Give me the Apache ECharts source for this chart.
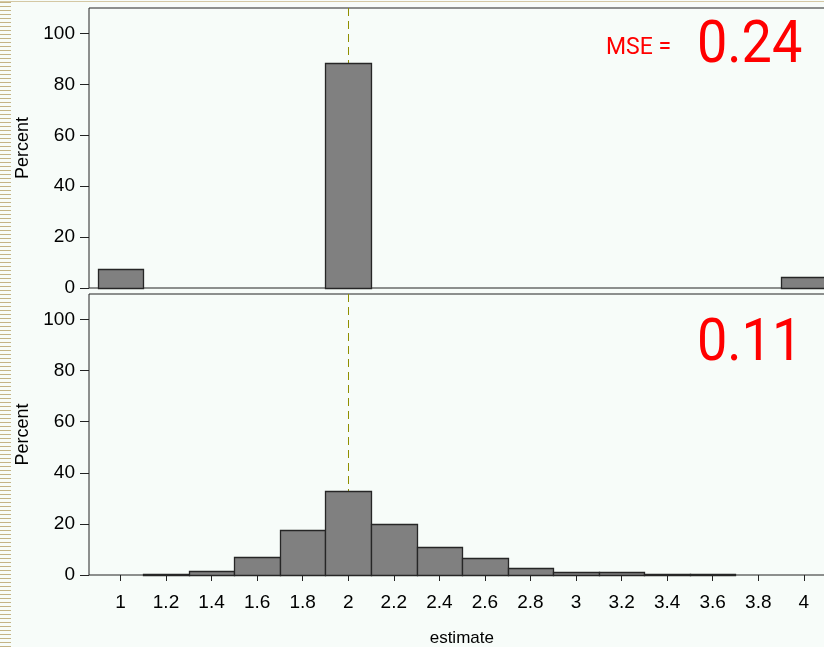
<!DOCTYPE html>
<html>
<head>
<meta charset="utf-8">
<script src="https://cdn.jsdelivr.net/npm/echarts@6/dist/echarts.min.js"></script>
<style>
  html, body { margin: 0; padding: 0; background: #f7fcf9; }
  #wrap { position: relative; width: 824px; height: 647px; overflow: hidden; background: #f7fcf9; }
  #chart { position: absolute; left: 0; top: 0; width: 824px; height: 647px; }
  #stripes { position: absolute; left: 0; top: 0; width: 11px; height: 647px; pointer-events: none;
    background: repeating-linear-gradient(to bottom, transparent 0px, transparent 2px, #c4b486 2px, #c4b486 3px, transparent 3px, transparent 4px); }
  #topline { position: absolute; left: 0; top: 1px; width: 824px; height: 1px; background: #d4c8a4; pointer-events: none; }
</style>
</head>
<body>
<div id="wrap">
  <div id="chart"></div>
  <div id="stripes"></div>
  <div id="topline"></div>
</div>
<script>
// ---- data ----
const binCenters = [1, 1.2, 1.4, 1.6, 1.8, 2, 2.2, 2.4, 2.6, 2.8, 3, 3.2, 3.4, 3.6, 3.8, 4];
const binWidth = 0.2;
const topPercent = [7.4, 0, 0, 0, 0, 88.5, 0, 0, 0, 0, 0, 0, 0, 0, 0, 4.2];
const bottomPercent = [0, 0.4, 1.4, 7.0, 17.5, 33.0, 20.0, 10.8, 6.5, 2.7, 1.0, 1.0, 0.5, 0.5, 0, 0];
const xTickValues = [1, 1.2, 1.4, 1.6, 1.8, 2, 2.2, 2.4, 2.6, 2.8, 3, 3.2, 3.4, 3.6, 3.8, 4];
const yTickValues = [0, 20, 40, 60, 80, 100];
const trueValue = [2];
const mseLabel = 'MSE =';
const mseTop = '0.24';
const mseBottom = '0.11';

const chart = echarts.init(document.getElementById('chart'), null, { renderer: 'canvas' });

function histItem(params, api) {
  const x = api.value(0), y = api.value(1);
  if (!y) return null;
  const p0 = api.coord([x - binWidth / 2, y]);
  const p1 = api.coord([x + binWidth / 2, 0]);
  return {
    type: 'rect',
    shape: { x: Math.round(p0[0]) + 0.5, y: Math.round(p0[1]) + 0.5, width: Math.round(p1[0]) - Math.round(p0[0]), height: Math.max(1, Math.round(p1[1]) - Math.round(p0[1])) },
    style: { fill: '#808080', stroke: '#262626', lineWidth: 1.3 }
  };
}
function refLine(params, api) {
  const x = api.value(0);
  const a = api.coord([x, 110]);
  const b = api.coord([x, 0]);
  const xx = Math.round(a[0]) + 0.5;
  return {
    type: 'line',
    shape: { x1: xx, y1: a[1], x2: xx, y2: b[1] },
    style: { stroke: '#8f8f00', lineWidth: 1, lineDash: [8, 5] }
  };
}

const font = 'Liberation Sans';
const xMin = 0.862, xMax = 4.135;
const gridLeft = 89, gridWidth = (xMax - xMin) * 227.8;

function yAxis(idx) {
  return {
    type: 'value', gridIndex: idx, min: 0, max: 110,
    name: 'Percent', nameLocation: 'middle', nameGap: 57,
    nameTextStyle: { fontFamily: font, fontSize: 18, color: '#000' },
    axisLine: { show: false },
    axisTick: { show: true, length: 9, lineStyle: { color: '#222' }, customValues: yTickValues },
    axisLabel: { fontFamily: font, fontSize: 19, color: '#000', margin: 14, customValues: yTickValues },
    splitLine: { show: false }
  };
}

const option = {
  backgroundColor: 'transparent',
  animation: false,
  grid: [
    { left: gridLeft, top: 8, width: gridWidth, height: 280, outerBoundsMode: 'none', containLabel: false, show: true, backgroundColor: '#f7fcf9', borderColor: '#222', borderWidth: 1 },
    { left: gridLeft, top: 294, width: gridWidth, height: 281, outerBoundsMode: 'none', containLabel: false, show: true, backgroundColor: '#f7fcf9', borderColor: '#222', borderWidth: 1 }
  ],
  xAxis: [
    { type: 'value', gridIndex: 0, min: xMin, max: xMax, axisLine: { show: false }, axisTick: { show: false }, axisLabel: { show: false }, splitLine: { show: false } },
    { type: 'value', gridIndex: 1, min: xMin, max: xMax,
      name: 'estimate', nameLocation: 'middle', nameGap: 55,
      nameTextStyle: { fontFamily: font, fontSize: 17, color: '#000' },
      axisLine: { show: false },
      axisTick: { show: true, length: 6, lineStyle: { color: '#222' }, customValues: xTickValues },
      axisLabel: { fontFamily: font, fontSize: 19, color: '#000', margin: 18, customValues: xTickValues, formatter: v => String(+v.toFixed(1)) },
      splitLine: { show: false } }
  ],
  yAxis: [yAxis(0), yAxis(1)],
  series: [
    { type: 'custom', xAxisIndex: 0, yAxisIndex: 0, z: 1, renderItem: refLine, data: trueValue.map(v => [v]), silent: true },
    { type: 'custom', xAxisIndex: 1, yAxisIndex: 1, z: 1, renderItem: refLine, data: trueValue.map(v => [v]), silent: true },
    { type: 'custom', xAxisIndex: 0, yAxisIndex: 0, z: 2, renderItem: histItem, data: binCenters.map((c, i) => [c, topPercent[i]]) },
    { type: 'custom', xAxisIndex: 1, yAxisIndex: 1, z: 2, renderItem: histItem, data: binCenters.map((c, i) => [c, bottomPercent[i]]) }
  ],
  graphic: [
    { type: 'text', left: 606, top: 37, z: 10, style: { text: mseLabel, fontFamily: 'Roboto', fontSize: 23, fill: '#ff0000' } },
    { type: 'text', x: 697, y: 17, scaleX: 0.9, z: 10, style: { text: mseTop, fontFamily: 'Roboto', fontSize: 60, fill: '#ff0000' } },
    { type: 'text', x: 697, y: 315, scaleX: 0.9, z: 10, style: { text: mseBottom, fontFamily: 'Roboto', fontSize: 60, fill: '#ff0000' } }
  ]
};
chart.setOption(option);
</script>
</body>
</html>
